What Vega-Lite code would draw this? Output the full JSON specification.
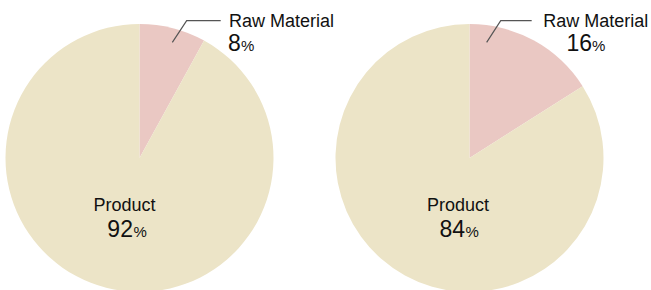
{
  "$schema": "https://vega.github.io/schema/vega-lite/v6.json",
  "padding": 0,
  "spacing": 51,
  "bounds": "flush",
  "background": "white",
  "config": {"view": {"stroke": null}, "text": {"font": "Liberation Sans", "color": "#111111"}},
  "datasets": {
    "left": [{"part": "Raw Material", "pct": 8, "k": 1}, {"part": "Product", "pct": 92, "k": 2}],
    "right": [{"part": "Raw Material", "pct": 16, "k": 1}, {"part": "Product", "pct": 84, "k": 2}],
    "leftLeader": [{"pt": 1, "x": 0.245, "y": 0.863}, {"pt": 2, "x": 0.352, "y": 1.025}, {"pt": 3, "x": 0.606, "y": 1.025}],
    "rightLeader": [{"pt": 1, "x": 0.128, "y": 0.863}, {"pt": 2, "x": 0.233, "y": 1.025}, {"pt": 3, "x": 0.464, "y": 1.025}]
  },
  "hconcat": [
    {
      "width": 279, "height": 316,
      "data": {"name": "left"},
      "layer": [
        {"mark": {"type": "arc", "radius": 134, "stroke": null},
         "encoding": {"theta": {"field": "pct", "type": "quantitative", "stack": true}, "order": {"field": "k"},
           "color": {"field": "part", "type": "nominal", "legend": null, "scale": {"domain": ["Raw Material", "Product"], "range": ["#eac8c3", "#ece4c7"]}}}},
        {"mark": {"type": "text", "radius": 150, "align": "left", "baseline": "alphabetic", "fontSize": 18, "dx": 52.2, "dy": 14.3},
         "encoding": {"theta": {"field": "pct", "type": "quantitative", "stack": true}, "order": {"field": "k"}, "detail": {"field": "part"},
           "text": {"condition": {"test": "datum.part === 'Raw Material'", "field": "part", "type": "nominal"}, "value": ""}}},
        {"mark": {"type": "text", "radius": 150, "align": "left", "baseline": "alphabetic", "fontSize": 23, "dx": 51.2, "dy": 38},
         "encoding": {"theta": {"field": "pct", "type": "quantitative", "stack": true}, "order": {"field": "k"}, "detail": {"field": "part"},
           "text": {"condition": {"test": "datum.part === 'Raw Material'", "field": "pct", "type": "quantitative", "format": "d"}, "value": ""}}},
        {"mark": {"type": "text", "radius": 150, "align": "left", "baseline": "alphabetic", "fontSize": 15, "dx": 64.2, "dy": 38},
         "encoding": {"theta": {"field": "pct", "type": "quantitative", "stack": true}, "order": {"field": "k"}, "detail": {"field": "part"},
           "text": {"condition": {"test": "datum.part === 'Raw Material'", "value": "%"}, "value": ""}}},
        {"mark": {"type": "text", "radius": 50, "align": "center", "baseline": "alphabetic", "fontSize": 18, "dx": -2.6, "dy": 4.6},
         "encoding": {"theta": {"field": "pct", "type": "quantitative", "stack": true}, "order": {"field": "k"}, "detail": {"field": "part"},
           "text": {"condition": {"test": "datum.part === 'Product'", "field": "part", "type": "nominal"}, "value": ""}}},
        {"mark": {"type": "text", "radius": 50, "align": "right", "baseline": "alphabetic", "fontSize": 23, "dx": 5.9, "dy": 30.3},
         "encoding": {"theta": {"field": "pct", "type": "quantitative", "stack": true}, "order": {"field": "k"}, "detail": {"field": "part"},
           "text": {"condition": {"test": "datum.part === 'Product'", "field": "pct", "type": "quantitative", "format": "d"}, "value": ""}}},
        {"mark": {"type": "text", "radius": 50, "align": "left", "baseline": "alphabetic", "fontSize": 15, "dx": 6.4, "dy": 30.3},
         "encoding": {"theta": {"field": "pct", "type": "quantitative", "stack": true}, "order": {"field": "k"}, "detail": {"field": "part"},
           "text": {"condition": {"test": "datum.part === 'Product'", "value": "%"}, "value": ""}}},
        {"data": {"name": "leftLeader"},
         "mark": {"type": "line", "color": "#555555", "strokeWidth": 1.2},
         "encoding": {
           "x": {"field": "x", "type": "quantitative", "scale": {"domain": [-1.041, 1.041], "nice": false, "zero": false}, "axis": null},
           "y": {"field": "y", "type": "quantitative", "scale": {"domain": [-1.179, 1.179], "nice": false, "zero": false}, "axis": null},
           "order": {"field": "pt"}}}
      ]
    },
    {
      "width": 279, "height": 316,
      "data": {"name": "right"},
      "layer": [
        {"mark": {"type": "arc", "radius": 134, "stroke": null},
         "encoding": {"theta": {"field": "pct", "type": "quantitative", "stack": true}, "order": {"field": "k"},
           "color": {"field": "part", "type": "nominal", "legend": null, "scale": {"domain": ["Raw Material", "Product"], "range": ["#eac8c3", "#ece4c7"]}}}},
        {"mark": {"type": "text", "radius": 150, "align": "left", "baseline": "alphabetic", "fontSize": 18, "dx": 1.5, "dy": 0.8},
         "encoding": {"theta": {"field": "pct", "type": "quantitative", "stack": true}, "order": {"field": "k"}, "detail": {"field": "part"},
           "text": {"condition": {"test": "datum.part === 'Raw Material'", "field": "part", "type": "nominal"}, "value": ""}}},
        {"mark": {"type": "text", "radius": 150, "align": "left", "baseline": "alphabetic", "fontSize": 23, "dx": 24.7, "dy": 24.1},
         "encoding": {"theta": {"field": "pct", "type": "quantitative", "stack": true}, "order": {"field": "k"}, "detail": {"field": "part"},
           "text": {"condition": {"test": "datum.part === 'Raw Material'", "field": "pct", "type": "quantitative", "format": "d"}, "value": ""}}},
        {"mark": {"type": "text", "radius": 150, "align": "left", "baseline": "alphabetic", "fontSize": 15, "dx": 50.2, "dy": 24.1},
         "encoding": {"theta": {"field": "pct", "type": "quantitative", "stack": true}, "order": {"field": "k"}, "detail": {"field": "part"},
           "text": {"condition": {"test": "datum.part === 'Raw Material'", "value": "%"}, "value": ""}}},
        {"mark": {"type": "text", "radius": 50, "align": "center", "baseline": "alphabetic", "fontSize": 18, "dx": 12.6, "dy": 9.2},
         "encoding": {"theta": {"field": "pct", "type": "quantitative", "stack": true}, "order": {"field": "k"}, "detail": {"field": "part"},
           "text": {"condition": {"test": "datum.part === 'Product'", "field": "part", "type": "nominal"}, "value": ""}}},
        {"mark": {"type": "text", "radius": 50, "align": "right", "baseline": "alphabetic", "fontSize": 23, "dx": 19.6, "dy": 34.9},
         "encoding": {"theta": {"field": "pct", "type": "quantitative", "stack": true}, "order": {"field": "k"}, "detail": {"field": "part"},
           "text": {"condition": {"test": "datum.part === 'Product'", "field": "pct", "type": "quantitative", "format": "d"}, "value": ""}}},
        {"mark": {"type": "text", "radius": 50, "align": "left", "baseline": "alphabetic", "fontSize": 15, "dx": 20.1, "dy": 34.9},
         "encoding": {"theta": {"field": "pct", "type": "quantitative", "stack": true}, "order": {"field": "k"}, "detail": {"field": "part"},
           "text": {"condition": {"test": "datum.part === 'Product'", "value": "%"}, "value": ""}}},
        {"data": {"name": "rightLeader"},
         "mark": {"type": "line", "color": "#555555", "strokeWidth": 1.2},
         "encoding": {
           "x": {"field": "x", "type": "quantitative", "scale": {"domain": [-1.041, 1.041], "nice": false, "zero": false}, "axis": null},
           "y": {"field": "y", "type": "quantitative", "scale": {"domain": [-1.179, 1.179], "nice": false, "zero": false}, "axis": null},
           "order": {"field": "pt"}}}
      ]
    }
  ]
}
